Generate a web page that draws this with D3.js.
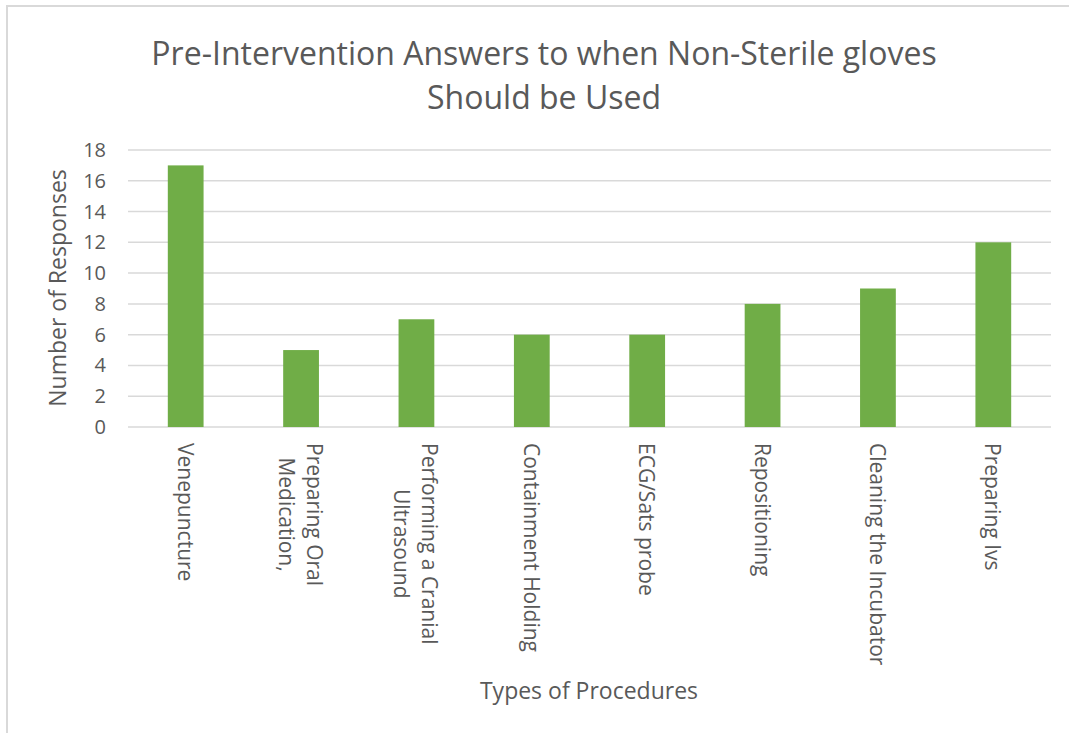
<!DOCTYPE html>
<html>
<head>
<meta charset="utf-8">
<script src="https://cdn.jsdelivr.net/npm/d3@7"></script>
<style>
  body { margin: 0; background: #fff; }
  text { font-family: "Open Sans", sans-serif; fill: #595959; }
</style>
</head>
<body>
<svg id="chart" width="1069" height="733"></svg>
<script>
const categories = [
  ["Venepuncture"],
  ["Preparing Oral", "Medication,"],
  ["Performing a Cranial", "Ultrasound"],
  ["Containment Holding"],
  ["ECG/Sats probe"],
  ["Repositioning"],
  ["Cleaning the Incubator"],
  ["Preparing Ivs"]
];
const responses = [17, 5, 7, 6, 6, 8, 9, 12];
const yTicks = [0, 2, 4, 6, 8, 10, 12, 14, 16, 18];
const titleLines = ["Pre-Intervention Answers to when Non-Sterile gloves", "Should be Used"];

const svg = d3.select("#chart");
const W = 1069, H = 733;
const plot = { left: 128, right: 1051, top: 150, bottom: 427 };

// chart frame
svg.append("path")
    .attr("d", `M7,${H} V6 H${W}`)
    .attr("fill", "none")
    .attr("stroke", "#d9d9d9")
    .attr("stroke-width", 2);

const x = d3.scaleBand()
    .domain(d3.range(categories.length))
    .range([plot.left, plot.right])
    .paddingInner(0.69)
    .paddingOuter(0.345);

const y = d3.scaleLinear()
    .domain([0, 18])
    .range([plot.bottom, plot.top]);

// gridlines
svg.append("g")
    .selectAll("line")
    .data(yTicks)
    .join("line")
    .attr("x1", plot.left)
    .attr("x2", plot.right)
    .attr("y1", d => y(d))
    .attr("y2", d => y(d))
    .attr("stroke", "#d9d9d9")
    .attr("stroke-width", 1.5);

// y tick labels
svg.append("g")
    .selectAll("text")
    .data(yTicks)
    .join("text")
    .attr("x", 106)
    .attr("y", d => y(d))
    .attr("dy", "0.35em")
    .attr("text-anchor", "end")
    .attr("font-size", 20)
    .text(d => d);

// bars
svg.append("g")
    .selectAll("rect")
    .data(responses)
    .join("rect")
    .attr("x", (d, i) => x(i))
    .attr("y", d => y(d))
    .attr("width", x.bandwidth())
    .attr("height", d => y(0) - y(d))
    .attr("fill", "#70ad47");

// rotated category labels, lines centred, block aligned to the top
const lh = 28;
const labels = svg.append("g")
    .selectAll("g")
    .data(categories)
    .join("g")
    .attr("transform", (d, i) => `translate(${x(i) + x.bandwidth() / 2},443) rotate(90)`);

labels.each(function(lines) {
    const g = d3.select(this);
    const t = g.selectAll("text")
        .data(lines)
        .join("text")
        .attr("font-size", 21)
        .attr("text-anchor", "middle")
        .attr("dominant-baseline", "central")
        .attr("y", (d, j) => (j - (lines.length - 1) / 2) * lh)
        .text(d => d);
    const maxLen = d3.max(t.nodes(), n => n.getComputedTextLength());
    t.attr("x", maxLen / 2);
});

// axis titles
svg.append("text")
    .attr("transform", "translate(57,288) rotate(-90)")
    .attr("text-anchor", "middle")
    .attr("dominant-baseline", "central")
    .attr("font-size", 23)
    .text("Number of Responses");

svg.append("text")
    .attr("x", 589)
    .attr("y", 690)
    .attr("text-anchor", "middle")
    .attr("dominant-baseline", "central")
    .attr("font-size", 23)
    .text("Types of Procedures");

// chart title
svg.append("g")
    .selectAll("text")
    .data(titleLines)
    .join("text")
    .attr("x", 544)
    .attr("y", (d, i) => 52 + i * 44)
    .attr("text-anchor", "middle")
    .attr("dominant-baseline", "central")
    .attr("font-size", 32)
    .text(d => d);
</script>
</body>
</html>
